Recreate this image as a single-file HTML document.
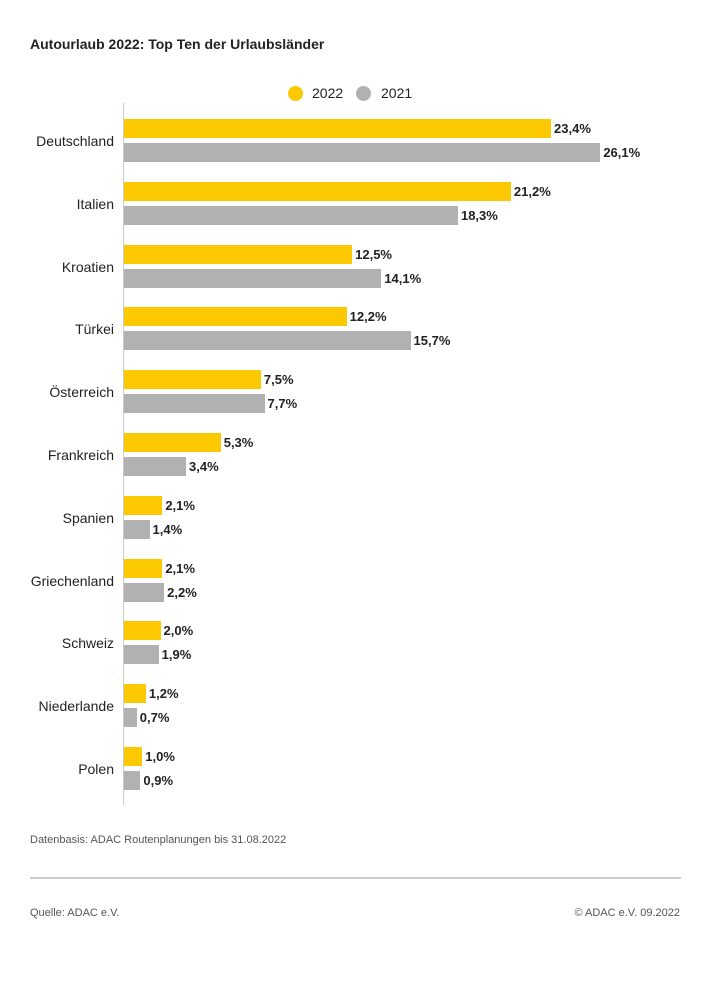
<!DOCTYPE html>
<html><head><meta charset="utf-8"><style>
body{margin:0;width:710px;height:981px;background:#fff;font-family:"Liberation Sans",sans-serif;position:relative;overflow:hidden;color:#222}
.t{position:absolute;white-space:nowrap}
.bar{position:absolute;left:124px;height:19px}
.y{background:#fcc800}.g{background:#b1b1b1}
.v{position:absolute;font-weight:bold;font-size:13px;line-height:19px}
.c{position:absolute;right:596px;font-size:14px;text-align:right;line-height:20px}
</style></head><body>
<div class="t" style="left:30px;top:36px;font-size:14px;font-weight:bold">Autourlaub 2022: Top Ten der Urlaubsländer</div>
<div style="position:absolute;left:288px;top:86px;width:15px;height:15px;border-radius:50%;background:#fcc800"></div>
<div class="t" style="left:312px;top:85px;font-size:14px">2022</div>
<div style="position:absolute;left:356px;top:86px;width:15px;height:15px;border-radius:50%;background:#b1b1b1"></div>
<div class="t" style="left:381px;top:85px;font-size:14px">2021</div>
<div style="position:absolute;left:123px;top:103px;width:1px;height:702px;background:#ccc"></div>
<div id="c"></div>
<div class="t" style="left:30px;top:834px;font-size:11px;color:#555">Datenbasis: ADAC Routenplanungen bis 31.08.2022</div>
<div style="position:absolute;left:30px;top:877px;width:651px;height:2px;background:#ccc"></div>
<div class="t" style="left:30px;top:907px;font-size:11px;color:#555">Quelle: ADAC e.V.</div>
<div class="t" style="right:30px;top:907px;font-size:11px;color:#555">© ADAC e.V. 09.2022</div>
<script>
var d=[["Deutschland",23.4,26.1],["Italien",21.2,18.3],["Kroatien",12.5,14.1],["Türkei",12.2,15.7],["Österreich",7.5,7.7],["Frankreich",5.3,3.4],["Spanien",2.1,1.4],["Griechenland",2.1,2.2],["Schweiz",2.0,1.9],["Niederlande",1.2,0.7],["Polen",1.0,0.9]];
var h="",s=18.25;
d.forEach(function(r,i){var y=119+62.8*i;
[[r[1],"y",0],[r[2],"g",24]].forEach(function(b){var w=b[0]*s;
h+='<div class="bar '+b[1]+'" style="top:'+(y+b[2])+'px;width:'+w+'px"></div>';
h+='<div class="v" style="top:'+(y+b[2])+'px;left:'+(124+w+3)+'px">'+b[0].toFixed(1).replace(".",",")+'%</div>';});
h+='<div class="c" style="top:'+(y+12)+'px">'+r[0]+'</div>';});
document.getElementById("c").innerHTML=h;
</script>
</body></html>
